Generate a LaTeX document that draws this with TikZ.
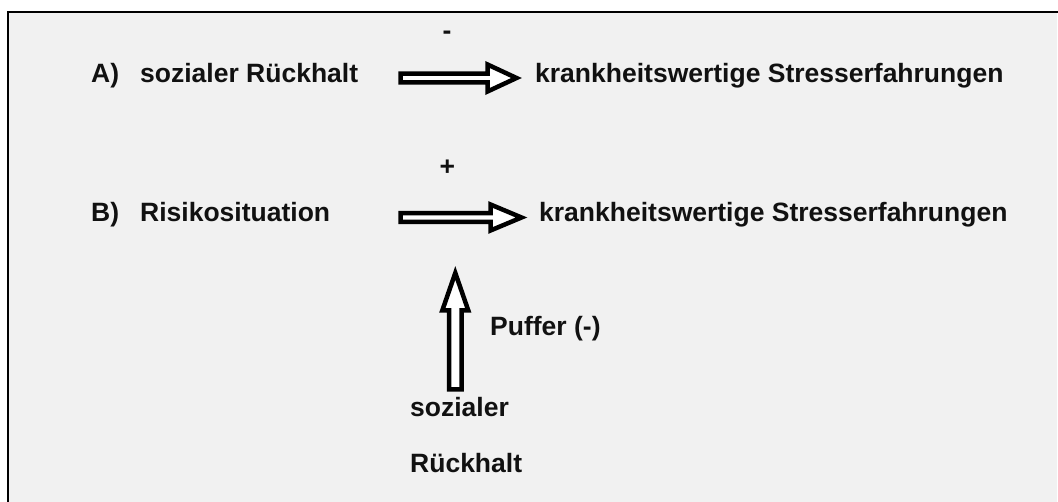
\documentclass[tikz,border=0pt]{standalone}
\usepackage{fontspec}
\setmainfont{Liberation Sans}
\definecolor{bggray}{HTML}{F1F1F1}
\definecolor{ink}{HTML}{111111}
\tikzset{
  txt/.style={font=\bfseries\fontsize{26.5}{30}\selectfont, inner sep=0pt, anchor=base west, text=ink},
  blockarrow/.style={draw=black, fill=white, line width=4.5pt, line join=miter, miter limit=20},
  pics/blockarr/.style n args={4}{code={
    \draw[blockarrow] (0,-#1) -- (#3,-#1) -- (#3,-#2) -- (#4,0) -- (#3,#2) -- (#3,#1) -- (0,#1) -- cycle;
  }}
}
\begin{document}
\begin{tikzpicture}[x=1pt,y=-1pt]
\useasboundingbox (0,0) rectangle (1058,502);
\fill[white] (0,0) rectangle (1058,502);
\fill[bggray] (8,12) rectangle (1057,502);
\draw[line width=2.5pt, line cap=rect] (8.2,502) -- (8.2,12.2) -- (1057,12.2);

% row A
\node[txt] (minus) at (442.5,40) {-};
\node[txt] (lblA) at (91,83) {A)};
\node[txt] (srA) at (140,83) {sozialer Rückhalt};
\node[txt] (kwA) at (535,83) {krankheitswertige Stresserfahrungen};
\pic (arrA) at (400.5,78) {blockarr={4.4}{13.5}{87}{116}};

% row B
\node[txt] (plus) at (439.5,176) {+};
\node[txt] (lblB) at (91,222) {B)};
\node[txt] (risk) at (140,222) {Risikosituation};
\node[txt] (kwB) at (539,222) {krankheitswertige Stresserfahrungen};
\pic (arrB) at (400.5,217.5) {blockarr={4.4}{13}{90}{121}};

% buffer
\pic[rotate=90] (arrC) at (455.3,389.5) {blockarr={6.2}{13}{79}{116.5}};
\node[txt] (puffer) at (490,336) {Puffer (-)};
\node[txt] (soz) at (410,417) {sozialer};
\node[txt] (rueck) at (410,473) {Rückhalt};
\end{tikzpicture}
\end{document}
